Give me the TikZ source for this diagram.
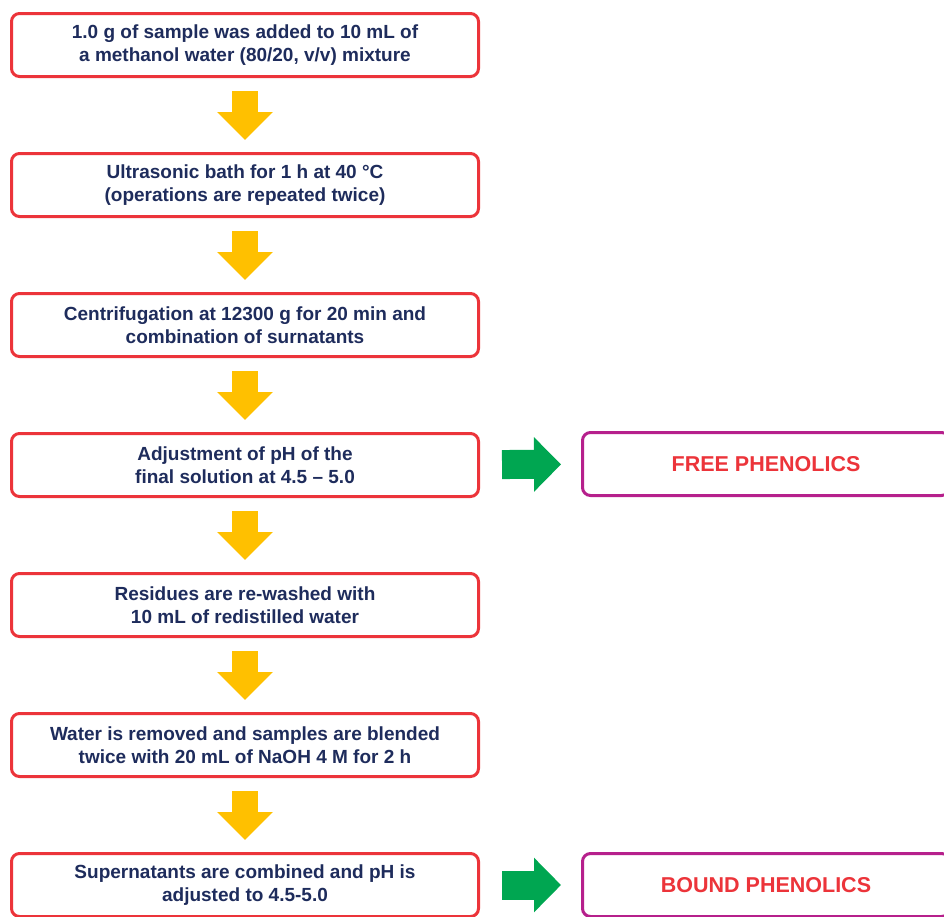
\documentclass[tikz,border=0pt]{standalone}
\usepackage{fontspec}
\setmainfont{Liberation Sans}
\usetikzlibrary{arrows.meta, positioning}

\definecolor{stepred}{RGB}{236,52,58}
\definecolor{resultpurple}{RGB}{182,32,140}
\definecolor{textnavy}{RGB}{30,44,92}
\definecolor{arrowyellow}{RGB}{255,192,0}
\definecolor{arrowgreen}{RGB}{0,166,81}

\tikzset{
    stepbox/.style={draw=stepred, line width=3pt, rounded corners=8pt, fill=white,
        minimum width=467pt, minimum height=63pt, align=center, text=textnavy,
        font=\bfseries\fontsize{19}{23}\selectfont},
    resultbox/.style={draw=resultpurple, line width=3pt, rounded corners=8pt, fill=white,
        minimum width=367pt, minimum height=63pt, align=center, text=stepred,
        font=\bfseries\fontsize{21.5}{25}\selectfont},
    downarrow/.style={draw=arrowyellow, line width=26pt, -{Triangle[width=54pt,length=28pt]},
        shorten <=13pt, shorten >=12pt},
    sidearrow/.style={draw=arrowgreen, line width=29pt, -{Triangle[width=53pt,length=27pt]},
        shorten <=22pt, shorten >=20pt}
}

\begin{document}
\begin{tikzpicture}[x=1pt, y=-1pt]
    \path[use as bounding box, clip] (0,0) rectangle (944,916);

    % The seven extraction steps
    \foreach \n/\txt in {
        1/{1.0 g of sample was added to 10 mL of\\a methanol water (80/20, v/v) mixture},
        2/{Ultrasonic bath for 1 h at 40 °C\\(operations are repeated twice)},
        3/{Centrifugation at 12300 g for 20 min and\\combination of surnatants},
        4/{Adjustment of pH of the\\final solution at 4.5 – 5.0},
        5/{Residues are re-washed with\\10 mL of redistilled water},
        6/{Water is removed and samples are blended\\twice with 20 mL of NaOH 4 M for 2 h},
        7/{Supernatants are combined and pH is\\adjusted to 4.5-5.0}} {
        \node[stepbox] (s\n) at (245, {45+140*(\n-1)}) {\txt};
    }

    % Fractions obtained
    \node[resultbox] (free) at (766, 464) {FREE PHENOLICS};
    \node[resultbox] (bound) at (766, 885) {BOUND PHENOLICS};

    % Flow between steps
    \foreach \s/\t in {1/2, 2/3, 3/4, 4/5, 5/6, 6/7} {
        \draw[downarrow] (s\s) -- (s\t);
    }

    % Arrows to the fractions
    \draw[sidearrow] (s4) -- (free);
    \draw[sidearrow] (s7.east |- bound) -- (bound);
\end{tikzpicture}
\end{document}
